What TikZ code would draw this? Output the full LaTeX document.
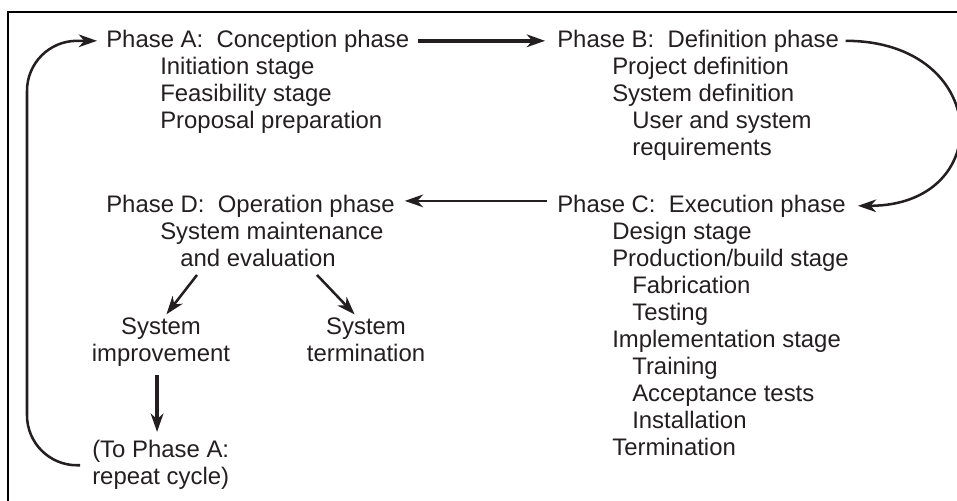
\documentclass[tikz,border=0pt]{standalone}
\usepackage{fontspec}
\setmainfont{Liberation Sans}
\usetikzlibrary{arrows.meta}
\definecolor{ink}{RGB}{35,31,32}

\tikzset{
  txt/.style={anchor=base west, inner sep=0pt, text=ink, font=\fontsize{17}{19.2}\selectfont},
  blk/.style={inner sep=0pt, text=ink, font=\fontsize{17}{19.2}\selectfont},
  arr/.style={-{Stealth[length=13pt,width=9pt,inset=4pt]}, line width=1.8pt, draw=ink},
  fatarr/.style={arr, line width=2.8pt},
}

\begin{document}
\begin{tikzpicture}[x=0.025cm, y=-0.025cm]
	\useasboundingbox (0,0) rectangle (957,500);
	\draw[line width=1.4pt] (8,12) rectangle (985,525);

	% Phase A
	\node[txt] (pa) at (106,47) {Phase A:\ \ Conception phase};
	\node[txt] (pa1) at (160,74) {Initiation stage};
	\node[txt] (pa2) at (160,101) {Feasibility stage};
	\node[txt] (pa3) at (160,128) {Proposal preparation};

	% Phase B
	\node[txt] (pb) at (557,47) {Phase B:\ \ Definition phase};
	\node[txt] (pb1) at (612,74) {Project definition};
	\node[txt] (pb2) at (612,101) {System definition};
	\node[txt] (pb3) at (632,128) {User and system};
	\node[txt] (pb4) at (632,155) {requirements};

	% Phase C
	\node[txt] (pc) at (557,212) {Phase C:\ \ Execution phase};
	\node[txt] (pc1) at (612,239) {Design stage};
	\node[txt] (pc2) at (612,266) {Production/build stage};
	\node[txt] (pc3) at (632,293) {Fabrication};
	\node[txt] (pc4) at (632,320) {Testing};
	\node[txt] (pc5) at (612,347) {Implementation stage};
	\node[txt] (pc6) at (632,374) {Training};
	\node[txt] (pc7) at (632,401) {Acceptance tests};
	\node[txt] (pc8) at (632,428) {Installation};
	\node[txt] (pc9) at (612,455) {Termination};

	% Phase D
	\node[txt] (pd) at (106,212) {Phase D:\ \ Operation phase};
	\node[txt] (pd1) at (160,239) {System maintenance};
	\node[txt] (pd2) at (180,266) {and evaluation};
	\node[blk, align=center] (imp) at (161,342.25) {System\\improvement};
	\node[blk, align=center] (term) at (366,339.75) {System\\termination};
	\node[blk, align=left, anchor=west] (back) at (92,465.25) {(To Phase A:\\repeat cycle)};

	% arrows
	\draw[fatarr, shorten <=5.7pt, shorten >=8.5pt] (pa.east) -- (pb.west);
	\draw[arr, shorten <=4.5pt, shorten >=8.5pt] (pb.east) to[out=0, in=0, looseness=2.35] (pc.east);
	\draw[arr, shorten <=7pt, shorten >=7pt] ([yshift=3.5pt]pc.west) -- ([yshift=3.5pt]pd.east);
	\coordinate (d1) at (197,275);
	\coordinate (d2) at (317,275);
	\coordinate (lp) at (27,300);
	\draw[arr, shorten >=3pt] (d1) -- ([xshift=2pt]imp.north);
	\draw[arr, shorten >=3pt] (d2) -- ([xshift=-6pt]term.north);
	\draw[fatarr, shorten <=5.7pt, shorten >=6pt] ([xshift=-2.8pt]imp.south) -- ([xshift=-2.8pt]imp.south |- back.north);
	\draw[arr, rounded corners=1.25cm, shorten <=8.5pt, shorten >=6.4pt] (back.west) -| (lp |- pa.west) -- (pa.west);
\end{tikzpicture}
\end{document}
